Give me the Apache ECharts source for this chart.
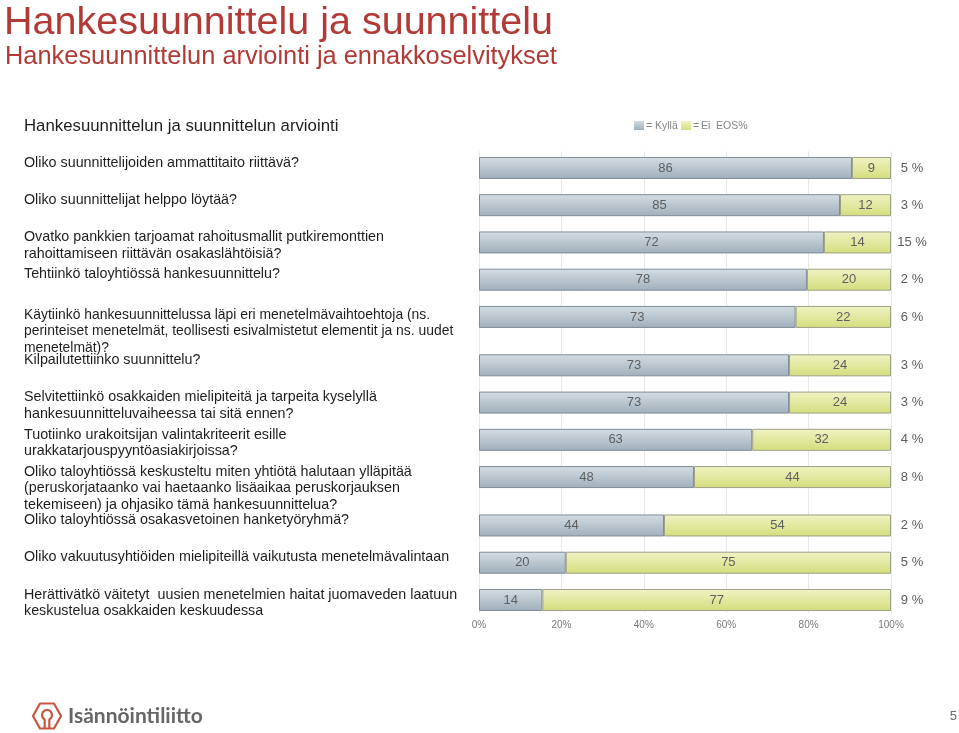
<!DOCTYPE html>
<html>
<head>
<meta charset="utf-8">
<script src="https://cdn.jsdelivr.net/npm/echarts@6/dist/echarts.min.js"></script>
<style>
  html, body { margin: 0; padding: 0; background: #fff; }
  #chart { width: 959px; height: 733px; }
</style>
</head>
<body>
<div id="chart"></div>
<script>
// ---- data ----
var questions = [
  "Oliko suunnittelijoiden ammattitaito riittävä?",
  "Oliko suunnittelijat helppo löytää?",
  "Ovatko pankkien tarjoamat rahoitusmallit putkiremonttien\nrahoittamiseen riittävän osakaslähtöisiä?",
  "Tehtiinkö taloyhtiössä hankesuunnittelu?",
  "Käytiinkö hankesuunnittelussa läpi eri menetelmävaihtoehtoja (ns.\nperinteiset menetelmät, teollisesti esivalmistetut elementit ja ns. uudet\nmenetelmät)?",
  "Kilpailutettiinko suunnittelu?",
  "Selvitettiinkö osakkaiden mielipiteitä ja tarpeita kyselyllä\nhankesuunnitteluvaiheessa tai sitä ennen?",
  "Tuotiinko urakoitsijan valintakriteerit esille\nurakkatarjouspyyntöasiakirjoissa?",
  "Oliko taloyhtiössä keskusteltu miten yhtiötä halutaan ylläpitää\n(peruskorjataanko vai haetaanko lisäaikaa peruskorjauksen\ntekemiseen) ja ohjasiko tämä hankesuunnittelua?",
  "Oliko taloyhtiössä osakasvetoinen hanketyöryhmä?",
  "Oliko vakuutusyhtiöiden mielipiteillä vaikutusta menetelmävalintaan",
  "Herättivätkö väitetyt  uusien menetelmien haitat juomaveden laatuun\nkeskustelua osakkaiden keskuudessa"
];
var seriesNames = ["Kyllä", "Ei"];
var kyllaValues = [86, 85, 72, 78, 73, 73, 73, 63, 48, 44, 20, 14];
var eiValues    = [9, 12, 14, 20, 22, 24, 24, 32, 44, 54, 75, 77];
var eosValues   = [5, 3, 15, 2, 6, 3, 3, 4, 8, 2, 5, 9];
var xTickLabels = ["0%", "20%", "40%", "60%", "80%", "100%"];

// ---- layout (slot positions of rows on the category axis) ----
var rowSlot = [4, 14, 24, 34, 44, 57, 67, 77, 87, 100, 110, 120];
var slotCount = 124;
var labelShift = [0, 0, 0, 0, 3, 0, 0, 0, 0, 0, 0, 0];
var labelSize = [14.3, 14.3, 14.3, 14.3, 13.9, 14.3, 14.3, 14.3, 14.3, 14.3, 14.3, 14.3];

var slots = [], kyllaData = [], eiData = [], eosLabels = [];
for (var s = 0; s < slotCount; s++) { slots.push(String(s)); kyllaData.push('-'); eiData.push('-'); eosLabels.push(''); }
rowSlot.forEach(function (slot, i) {
  var tot = kyllaValues[i] + eiValues[i];
  kyllaData[slot] = { value: kyllaValues[i] / tot * 100, raw: kyllaValues[i] };
  eiData[slot] = { value: eiValues[i] / tot * 100, raw: eiValues[i] };
  eosLabels[slot] = eosValues[i] + ' %';
});

var FONT = '"Liberation Sans", Arial, Helvetica, sans-serif';
function gKylla() { return new echarts.graphic.LinearGradient(0, 0, 0, 1, [
  { offset: 0, color: '#d5dde3' }, { offset: 1, color: '#9fafbb' }]); }
function gEi() { return new echarts.graphic.LinearGradient(0, 0, 0, 1, [
  { offset: 0, color: '#f0f3c4' }, { offset: 1, color: '#d4dd7c' }]); }

var barLabel = {
  show: true, position: 'inside', color: '#606060', fontSize: 13, fontFamily: FONT,
  formatter: function (p) { return p.data && p.data.raw != null ? p.data.raw : ''; }
};

var chart = echarts.init(document.getElementById('chart'), null, { renderer: 'canvas' });
chart.setOption({
  animation: false,
  backgroundColor: '#ffffff',
  grid: { left: 479, right: 68, top: 151.2, height: 461.8 },
  xAxis: {
    type: 'value', min: 0, max: 100, interval: 20,
    axisLine: { show: false }, axisTick: { show: false },
    splitLine: { show: true, lineStyle: { color: '#e8e8e8', width: 1 } },
    axisLabel: {
      color: '#7a7a7a', fontSize: 10, fontFamily: FONT, margin: 7,
      formatter: function (v) { return xTickLabels[Math.round(v / 20)]; }
    }
  },
  yAxis: [
    { type: 'category', data: slots, inverse: true, show: false },
    {
      type: 'category', data: eosLabels, inverse: true, position: 'right',
      axisLine: { show: false }, axisTick: { show: false },
      axisLabel: { interval: 0, color: '#5c5c5c', fontSize: 13, fontFamily: FONT, margin: 21, align: 'center' }
    }
  ],
  series: [
    {
      name: seriesNames[0], type: 'bar', stack: 'a', yAxisIndex: 0, barWidth: 22, data: kyllaData,
      itemStyle: { color: gKylla(), borderColor: '#7f8c96', borderWidth: 1 },
      label: barLabel
    },
    {
      name: seriesNames[1], type: 'bar', stack: 'a', yAxisIndex: 0, barWidth: 22, data: eiData,
      itemStyle: { color: gEi(), borderColor: '#9ca087', borderWidth: 1 },
      label: barLabel
    }
  ]
});

var red = '#b23a36';
var legendFont = { fontSize: 10.5, fontFamily: FONT, fill: '#858585', verticalAlign: 'middle' };
function lt(text, x) { return { type: 'text', style: Object.assign({ text: text, x: x, y: 126 }, legendFont) }; }
var graphics = [
  { type: 'text', style: { text: 'Hankesuunnittelu ja suunnittelu', x: 4, y: 23, verticalAlign: 'middle',
      fontSize: 39.5, fontFamily: FONT, fill: red } },
  { type: 'text', style: { text: 'Hankesuunnittelun arviointi ja ennakkoselvitykset', x: 5, y: 57, verticalAlign: 'middle',
      fontSize: 25.4, fontFamily: FONT, fill: red } },
  { type: 'text', style: { text: 'Hankesuunnittelun ja suunnittelun arviointi', x: 24, y: 126, verticalAlign: 'middle',
      fontSize: 16.8, fontFamily: FONT, fill: '#1e1e1e' } },
  // legend
  { type: 'rect', shape: { x: 634, y: 121, width: 10, height: 9 }, style: { fill: gKylla() } },
  lt('=', 646), lt(seriesNames[0], 655),
  { type: 'rect', shape: { x: 681, y: 121, width: 10, height: 9 }, style: { fill: gEi() } },
  lt('=', 693), lt(seriesNames[1], 701),
  lt('EOS%', 716),
  // logo
  { type: 'polygon', shape: { points: [[33, 716], [40, 703.5], [54, 703.5], [61, 716], [54, 728.5], [40, 728.5]] },
    style: { fill: 'none', stroke: '#c9563f', lineWidth: 2.2, lineJoin: 'round' } },
  { type: 'arc', shape: { cx: 47, cy: 715, r: 5, startAngle: Math.PI * 0.62, endAngle: Math.PI * 2.38, clockwise: true },
    style: { fill: 'none', stroke: '#c9563f', lineWidth: 2.2 } },
  { type: 'line', shape: { x1: 44.7, y1: 719.4, x2: 44.7, y2: 728 }, style: { stroke: '#c9563f', lineWidth: 2.2 } },
  { type: 'line', shape: { x1: 49.3, y1: 719.4, x2: 49.3, y2: 728 }, style: { stroke: '#c9563f', lineWidth: 2.2 } },
  { type: 'text', style: { text: 'Isännöintiliitto', x: 68, y: 716, verticalAlign: 'middle',
      fontSize: 21, fontWeight: 'bold', fontFamily: 'Lato, "Open Sans", sans-serif', fill: '#666666' } },
  { type: 'text', style: { text: '5', x: 957, y: 716, verticalAlign: 'middle', align: 'right',
      fontSize: 13, fontFamily: FONT, fill: '#6a6a6a' } }
];

rowSlot.forEach(function (slot, i) {
  var cy = chart.convertToPixel({ yAxisIndex: 0 }, slot);
  graphics.push({ type: 'text', style: {
    text: questions[i], x: 24, y: cy - 13.5 + labelShift[i], verticalAlign: 'top', lineHeight: 16.5,
    fontSize: labelSize[i], fontFamily: FONT, fill: '#1e1e1e' } });
});

chart.setOption({ graphic: graphics });
</script>
</body>
</html>
